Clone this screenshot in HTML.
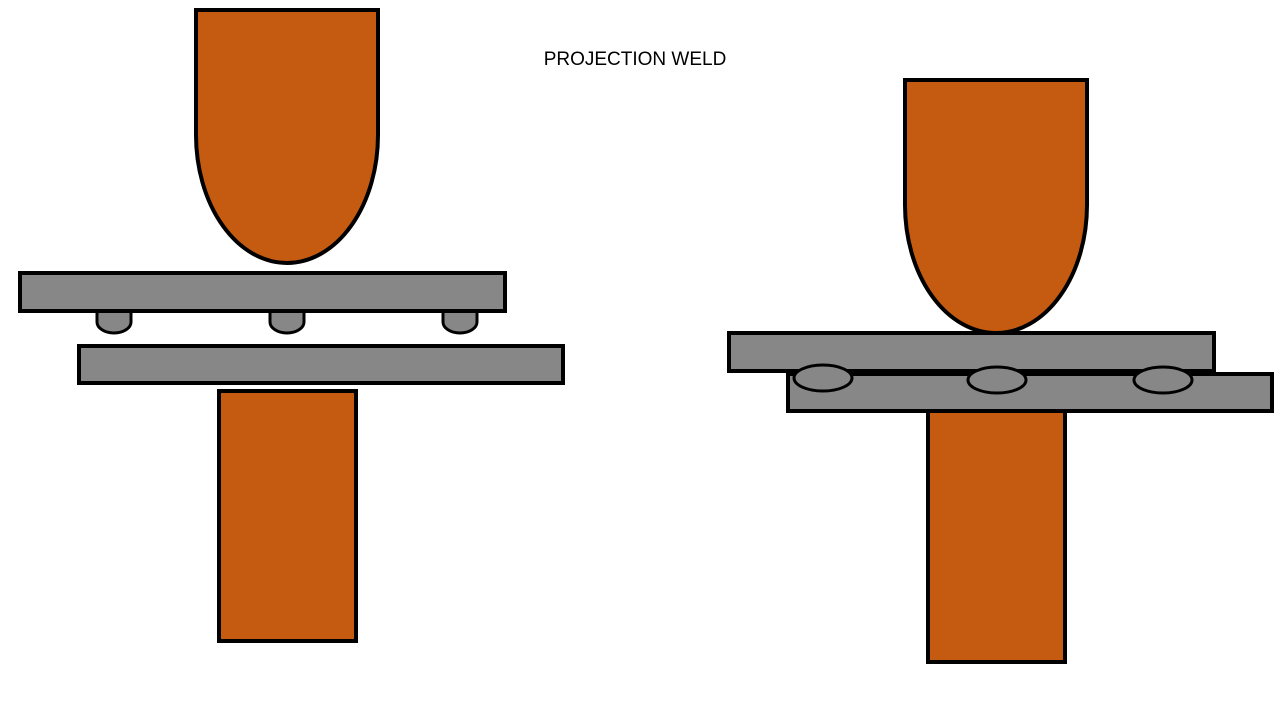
<!DOCTYPE html>
<html><head><meta charset="utf-8"><style>html,body{margin:0;padding:0;background:#fff;width:1280px;height:720px;overflow:hidden}</style></head>
<body>
<svg width="1280" height="720" viewBox="0 0 1280 720" xmlns="http://www.w3.org/2000/svg">
<g stroke="#000" stroke-width="4">
<!-- left -->
<path d="M196,10 H378 V135 A91,128 0 0 1 196,135 Z" fill="#C55A11"/>
<path d="M97,309 V322 A17,11 0 0 0 131,322 V309" fill="#878787" stroke-width="3"/>
<path d="M270,309 V322 A17,11 0 0 0 304,322 V309" fill="#878787" stroke-width="3"/>
<path d="M443,309 V322 A17,11 0 0 0 477,322 V309" fill="#878787" stroke-width="3"/>
<rect x="20" y="273" width="485" height="38" fill="#878787"/>
<rect x="79" y="346" width="484" height="37" fill="#878787"/>
<rect x="219" y="391" width="137" height="250" fill="#C55A11"/>
<!-- right -->
<path d="M905,80 H1087 V205 A91,128 0 0 1 905,205 Z" fill="#C55A11"/>
<rect x="729" y="333" width="485" height="38" fill="#878787"/>
<rect x="788" y="374" width="484" height="37" fill="#878787"/>
<rect x="928" y="411" width="137" height="251" fill="#C55A11"/>
<ellipse cx="823" cy="378" rx="29" ry="13" fill="#878787" stroke-width="3"/>
<ellipse cx="997" cy="380" rx="29" ry="13" fill="#878787" stroke-width="3"/>
<ellipse cx="1163" cy="380" rx="29" ry="13" fill="#878787" stroke-width="3"/>
</g>
<text x="635" y="65" text-anchor="middle" font-family="Liberation Sans, sans-serif" font-size="19" fill="#000">PROJECTION WELD</text>
</svg>
</body></html>
